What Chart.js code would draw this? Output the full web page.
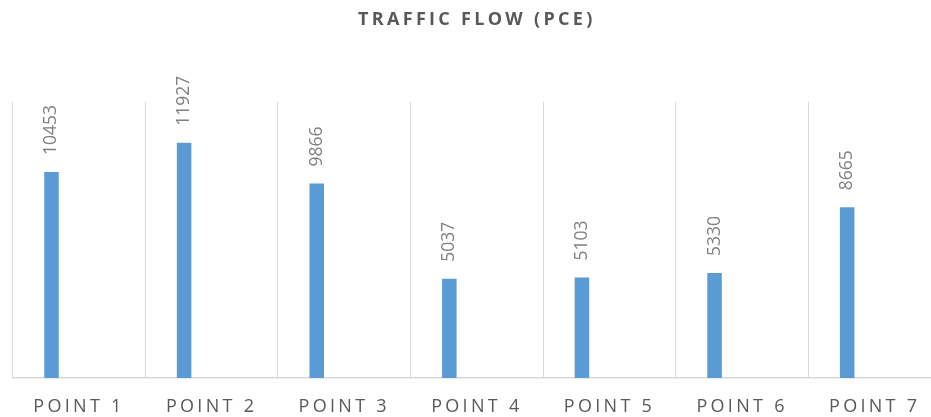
<!DOCTYPE html>
<html>
<head>
<meta charset="utf-8">
<title>Traffic flow (PCE)</title>
<script src="https://cdn.jsdelivr.net/npm/chart.js@4.4.1/dist/chart.umd.min.js"></script>
<style>
  body { margin: 0; background: #fff; overflow: hidden; }
</style>
</head>
<body>
<!-- the original plot runs a little past the right edge, so the canvas is wider than the window -->
<canvas id="chart-1" width="951" height="417"></canvas>
<script>
// data
const categories = ['POINT 1', 'POINT 2', 'POINT 3', 'POINT 4', 'POINT 5', 'POINT 6', 'POINT 7'];
const flowValues = [10453, 11927, 9866, 5037, 5103, 5330, 8665];
// second (empty) series - the original has a blank slot next to each bar
const blankValues = [null, null, null, null, null, null, null];
const yMax = 14000;

// spaced-out caps for the title and the axis labels
const spacing = {
    id: 'spacing',
    beforeDraw(chart) { chart.ctx.letterSpacing = '3.3px'; },
    beforeDatasetsDraw(chart) { chart.ctx.letterSpacing = '0px'; }
};

// rotated value labels above each bar
const barLabels = {
    id: 'barLabels',
    afterDatasetsDraw(chart) {
        const ctx = chart.ctx;
        const meta = chart.getDatasetMeta(0);
        ctx.save();
        ctx.letterSpacing = '0px';
        ctx.fillStyle = '#808080';
        ctx.font = '17.5px "Open Sans"';
        ctx.textAlign = 'left';
        ctx.textBaseline = 'middle';
        meta.data.forEach((bar, i) => {
            ctx.save();
            ctx.translate(bar.x, bar.y - 17);
            ctx.rotate(-Math.PI / 2);
            ctx.fillText(String(flowValues[i]), 0, 0);
            ctx.restore();
        });
        ctx.restore();
    }
};

const ctx1 = document.getElementById('chart-1');
const data1 = {
    type: 'bar',
    data: {
        labels: categories,
        datasets: [{
            label: 'Traffic flow',
            data: flowValues,
            backgroundColor: '#5B9BD5',
            borderWidth: 0,
            categoryPercentage: 0.83,
            barPercentage: 0.264
        }, {
            label: 'blank',
            data: blankValues,
            backgroundColor: '#ED7D31',
            borderWidth: 0,
            categoryPercentage: 0.83,
            barPercentage: 0.264
        }]
    },
    options: {
        responsive: false,
        animation: false,
        layout: {
            padding: { left: 12.7, right: 10, top: 0, bottom: 0 }
        },
        scales: {
            x: {
                grid: { color: '#d9d9d9', lineWidth: 1, drawTicks: false },
                border: { color: '#d9d9d9', width: 1.5 },
                ticks: {
                    color: '#595959',
                    padding: 18,
                    font: { family: '"Open Sans"', size: 18 }
                },
                afterFit(scale) { scale.height = 39; }
            },
            y: {
                display: false,
                beginAtZero: true,
                min: 0,
                max: yMax
            }
        },
        plugins: {
            legend: { display: false },
            tooltip: { enabled: false },
            title: {
                display: true,
                text: 'TRAFFIC FLOW (PCE)',
                color: '#595959',
                font: { family: '"Open Sans"', size: 18, weight: 'bold' },
                padding: { top: 9, bottom: 71.4 }
            }
        }
    },
    plugins: [spacing, barLabels]
};
const chart1 = new Chart(ctx1, data1);
</script>
</body>
</html>
